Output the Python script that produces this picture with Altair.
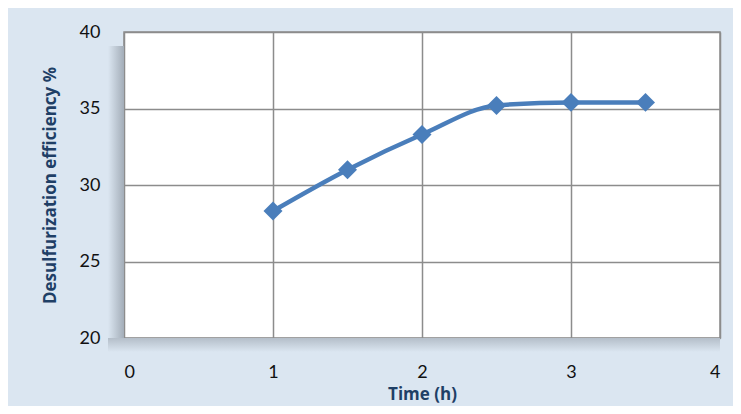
import altair as alt
import pandas as pd

time_h = [1, 1.5, 2, 2.5, 3, 3.5]
efficiency = [28.3, 31.0, 33.3, 35.2, 35.4, 35.4]

df = pd.DataFrame({"t": time_h, "e": efficiency})

line_color = "#4a7ebb"
title_color = "#1f3f66"
bg = "#dbe6f1"

x = alt.X("t:Q", scale=alt.Scale(domain=[0, 4]),
          axis=alt.Axis(values=[0, 1, 2, 3, 4], format="d", title="Time (h)", labelPadding=25,
                        titlePadding=5))
y = alt.Y("e:Q", scale=alt.Scale(domain=[20, 40]),
          axis=alt.Axis(values=[20, 25, 30, 35, 40], format="d", title="Desulfurization efficiency %",
                        labelPadding=24, titlePadding=20))

left_shadow = alt.Chart(df).mark_rect(
    clip=False,
    color=alt.Gradient(gradient="linear", x1=0, x2=1, y1=0, y2=0,
                       stops=[alt.GradientStop(color=bg, offset=0),
                              alt.GradientStop(color="#a3adb8", offset=1)])
).encode(x=alt.value(-16), x2=alt.value(0), y=alt.value(14), y2=alt.value(306))

bottom_shadow = alt.Chart(df).mark_rect(
    clip=False,
    color=alt.Gradient(gradient="linear", x1=0, x2=0, y1=0, y2=1,
                       stops=[alt.GradientStop(color="#b4bec9", offset=0),
                              alt.GradientStop(color=bg, offset=1)])
).encode(x=alt.value(-16), x2=alt.value(596), y=alt.value(306), y2=alt.value(320))

line = alt.Chart(df).mark_line(color=line_color, strokeWidth=4.5, interpolate="monotone").encode(x=x, y=y)
pts = alt.Chart(df).mark_point(shape="diamond", filled=True, color=line_color, size=360, opacity=1).encode(x="t:Q", y="e:Q")

chart = (left_shadow + bottom_shadow + line + pts).properties(
    width=596, height=306,
    autosize=alt.AutoSizeParams(type="none"),
    padding={"left": 116, "top": 24, "right": 13, "bottom": 68},
    background=bg,
).configure_view(
    fill="white", stroke="#8c8c8c", strokeWidth=1.5
).configure_axis(
    grid=True, gridColor="#8c8c8c", gridWidth=1.5, domain=False, ticks=False,
    labelFont="Lato", labelFontSize=18, labelColor="#111111",
    titleFont="Open Sans", titleFontSize=17, titleFontWeight="bold", titleColor=title_color,
)

chart.save("out.html", embed_options={"renderer": "svg", "actions": False})
